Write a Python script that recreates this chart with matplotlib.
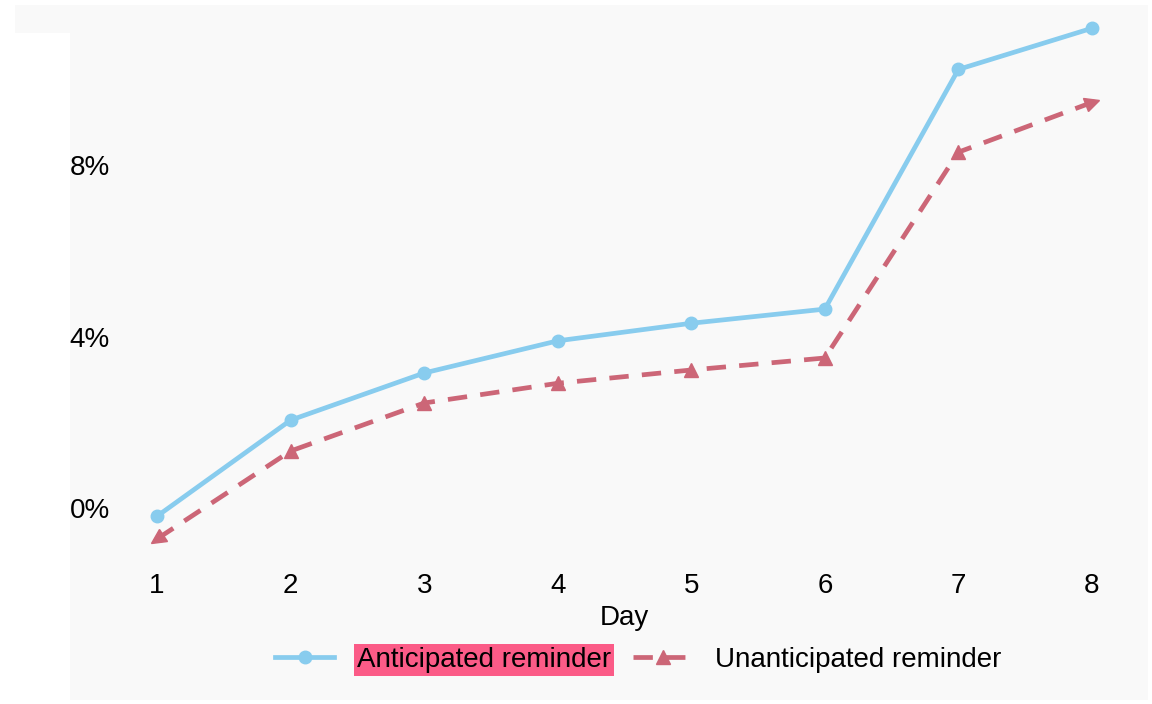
import numpy as np
import matplotlib
matplotlib.use("Agg")
from matplotlib import pyplot as plt
from matplotlib.markers import MarkerStyle
from matplotlib.transforms import Affine2D
from matplotlib.patches import Rectangle
from matplotlib.lines import Line2D

# Data (percent)
days = [1, 2, 3, 4, 5, 6, 7, 8]
anticipated = [-0.19, 2.05, 3.15, 3.9, 4.31, 4.64, 10.23, 11.19]
unanticipated = [-0.72, 1.33, 2.45, 2.91, 3.22, 3.5, 8.3, 9.46]
y_ticks = [0, 4, 8]
y_tick_labels = ["0%", "4%", "8%"]
labels = ["Anticipated reminder", "Unanticipated reminder"]

BLUE = "#88CCEE"
RED = "#CC6677"
BG = "#f9f9f9"
FS = 20

plt.rcParams['font.family'] = ['Liberation Sans', 'DejaVu Sans']

W, H = 1152, 704
fig = plt.figure(figsize=(W / 100, H / 100), dpi=100)
fig.patch.set_facecolor("white")

# light panels behind everything
fig.patches.append(Rectangle((15 / W, 1 - 33 / H), (1148 - 15) / W, 28 / H,
                             transform=fig.transFigure, facecolor=BG, edgecolor="none", zorder=-10))
fig.patches.append(Rectangle((70 / W, 1 - 700 / H), (1148 - 70) / W, (700 - 33) / H,
                             transform=fig.transFigure, facecolor=BG, edgecolor="none", zorder=-10))

# axes placement in pixels
left, right = 117, 1132
bottom, top = 559.5, 2.1
ax = fig.add_axes([left / W, 1 - bottom / H, (right - left) / W, (bottom - top) / H])
ax.patch.set_alpha(0)
ax.set_xlim(0.7, 8.3)
ax.set_ylim(-1.2, 11.8)
for s in ax.spines.values():
    s.set_visible(False)

blue_line, = ax.plot(days, anticipated, color=BLUE, lw=3.4, marker="o", ms=9,
                     label=labels[0], clip_on=False)
red_line, = ax.plot(days, unanticipated, color=RED, lw=3.4, dashes=(4.1, 2.8),
                    label=labels[1], clip_on=False)

# triangle markers: end points point outward along the line
fig.canvas.draw()
pts = ax.transData.transform(np.column_stack([days, unanticipated]))
for i, (d, v) in enumerate(zip(days, unanticipated)):
    rot = 0
    if i == 0:
        vec = pts[0] - pts[1]
        rot = np.degrees(np.arctan2(vec[1], vec[0])) - 90
    elif i == len(days) - 1:
        vec = pts[-1] - pts[-2]
        rot = np.degrees(np.arctan2(vec[1], vec[0])) - 90
    m = MarkerStyle("^", transform=Affine2D().rotate_deg(rot))
    ax.plot([d], [v], linestyle="none", marker=m, ms=10, color=RED, clip_on=False)

ax.set_xticks(days)
ax.set_xticklabels([str(d) for d in days])
ax.set_yticks(y_ticks)
ax.set_yticklabels(y_tick_labels)
ax.tick_params(axis="both", length=0, labelsize=FS)
ax.tick_params(axis="x", pad=10)
ax.tick_params(axis="y", pad=5)
ax.set_xlabel("Day", fontsize=FS, labelpad=4)

h_red = Line2D([], [], color=RED, lw=3.4, dashes=(4.1, 2.8), marker="^", ms=10)
leg = fig.legend([blue_line, h_red], labels, loc="center", ncol=2,
                 bbox_to_anchor=(638 / W, 1 - 660 / H), frameon=False,
                 fontsize=FS, handlelength=2.15, handletextpad=0.8, columnspacing=0.8)
leg.get_texts()[0].set_bbox(dict(facecolor="#fb5b87", edgecolor="none", pad=2))

fig.savefig("out.png", dpi=100, facecolor=fig.get_facecolor())
